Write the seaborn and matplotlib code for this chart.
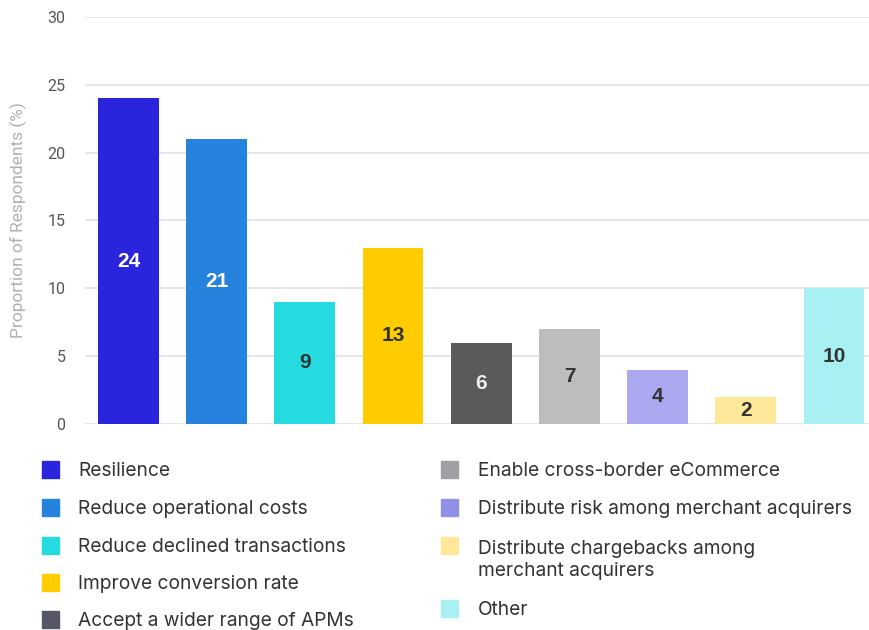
import matplotlib
matplotlib.use("Agg")
import matplotlib.pyplot as plt
import seaborn as sns
import pandas as pd
from matplotlib.patches import Rectangle

# Survey results: reasons for using multiple merchant acquirers
categories = [
    "Resilience",
    "Reduce operational costs",
    "Reduce declined transactions",
    "Improve conversion rate",
    "Accept a wider range of APMs",
    "Enable cross-border eCommerce",
    "Distribute risk among merchant acquirers",
    "Distribute chargebacks among\nmerchant acquirers",
    "Other",
]
values = [24, 21, 9, 13, 6, 7, 4, 2, 10]
yticks = [0, 5, 10, 15, 20, 25, 30]
ylabel = "Proportion of Respondents (%)"

bar_colors = ["#2a25dc", "#2683dd", "#25dbdf", "#ffcc00", "#5a5a5a",
              "#bdbdbd", "#aba8f0", "#ffe89a", "#a8f0f2"]
swatch_colors = ["#2a25dc", "#2683dd", "#25dbdf", "#ffcc00", "#555766",
                 "#9fa0a5", "#9090e8", "#ffe89a", "#a8f0f2"]
label_colors = ["white", "white", "#333333", "#333333", "#eeeeee",
                "#333333", "#333333", "#333333", "#333333"]

df = pd.DataFrame({"category": categories, "value": values})

sns.set_theme(style="white")
plt.rcParams["font.family"] = ["Roboto", "DejaVu Sans"]

W, H = 869, 630
fig = plt.figure(figsize=(W / 100, H / 100), dpi=100)
ax = fig.add_axes([85 / W, (H - 424) / H, (W - 85) / W, (424 - 17) / H])

sns.barplot(data=df, x="category", y="value", hue="category",
            palette=bar_colors, dodge=False, legend=False,
            width=0.69, saturation=1, linewidth=0, ax=ax, zorder=3)

ax.set_xlim(-0.493, 8.397)
ax.set_ylim(0, 30)
ax.set_yticks(yticks)
ax.set_yticklabels([str(t) for t in yticks], color="#555555", fontsize=11.5)
ax.set_xticks([])
ax.set_xlabel("")
ax.set_ylabel(ylabel, color="#b0b0b0", fontsize=12.5, labelpad=15)
ax.tick_params(axis="y", length=0, pad=14)
ax.grid(axis="y", color="#e2e2e2", linewidth=1.2, zorder=0)
for s in ax.spines.values():
    s.set_visible(False)

# value labels centred in each bar
for patch, v, c in zip(ax.patches, values, label_colors):
    ax.text(patch.get_x() + patch.get_width() / 2, v / 2, str(v),
            ha="center", va="center", color=c, fontsize=15,
            fontweight="bold", family=["Liberation Sans", "DejaVu Sans"],
            zorder=4)

# two-column legend below the plot
legend_font = ["Inter", "DejaVu Sans"]
left_rows = [469, 507, 545, 582, 619]
right_rows = [469, 507, 545, 608]
entries = [(42, 78, y) for y in left_rows] + [(441, 478, y) for y in right_rows]
for (sx, tx, y), name, col in zip(entries, categories, swatch_colors):
    fig.patches.append(Rectangle((sx / W, (H - y - 8.5) / H), 17 / W, 17 / H,
                                 transform=fig.transFigure, color=col))
    ty = (y if "\n" not in name else y + 13) + 2
    fig.text(tx / W, (H - ty) / H, name, ha="left", va="center",
             fontsize=13.8, color="#333333", family=legend_font,
             linespacing=1.3)

fig.savefig("out.png", dpi=100)
